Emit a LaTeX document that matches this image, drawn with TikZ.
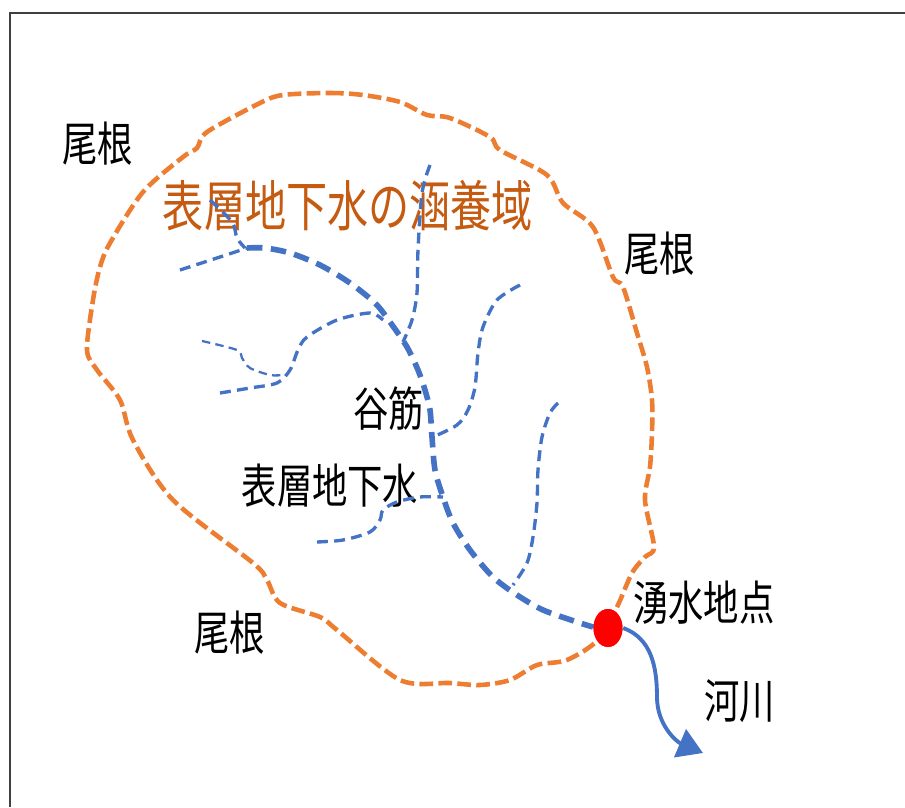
\documentclass[tikz,border=0pt]{standalone}
\usepackage{fontspec}
\usepackage{xcolor}
\usepackage{tikz}
\usetikzlibrary{shapes.geometric, arrows.meta, positioning}
\newfontfamily\jpfont[FakeStretch=0.75]{Noto Sans CJK JP}
\definecolor{ridgeorange}{RGB}{237,125,49}
\definecolor{streamblue}{RGB}{68,114,196}
\definecolor{titleorange}{RGB}{197,90,17}
\definecolor{framegray}{RGB}{64,64,64}
\tikzset{
    ridge/.style={draw=ridgeorange, line width=1.3pt, dash pattern=on 3.9pt off 1.5pt},
    valley/.style={draw=streamblue, line width=1.6pt, dash pattern=on 4.4pt off 2.4pt},
    brook/.style={draw=streamblue, line width=0.95pt, dash pattern=on 3.1pt off 1.8pt},
    rill/.style={draw=streamblue, line width=0.65pt, dash pattern=on 2.4pt off 1.5pt},
    river/.style={draw=streamblue, line width=1.1pt, -{Triangle[length=0.25cm, width=0.3cm]}},
    place/.style={font=\jpfont\fontsize{13.4}{14}\selectfont, inner sep=0pt, text=black},
    frame/.style={draw=framegray, line width=0.3pt}
}
\begin{document}
\begin{tikzpicture}[
    spring/.style={ellipse, fill=red, minimum width=0.29cm, minimum height=0.38cm, inner sep=0pt},
    areatitle/.style={font=\jpfont\fontsize{15.6}{17}\selectfont, inner sep=0pt, text=titleorange}
]
    \useasboundingbox (0,0) rectangle (9.05,8.07);
    \draw[frame] (0.10,0) |- (9.05,7.94);

    % Ridge line (watershed)
    \draw[ridge] plot[smooth cycle, tension=0.5] coordinates {
        (2.83,7.12) (3.30,7.14) (3.63,7.12) (4.00,7.05) (4.27,6.92) (4.50,6.89)
        (4.90,6.70) (5.00,6.57) (5.47,6.32) (5.63,6.04) (5.93,5.80) (6.13,5.30)
        (6.23,5.20) (6.37,4.74) (6.47,4.40) (6.52,4.07) (6.52,3.74) (6.50,3.40)
        (6.45,3.07) (6.54,2.60) (6.45,2.50) (6.32,2.34) (6.17,2.00) (5.98,1.67)
        (5.67,1.47) (5.37,1.42) (5.10,1.27) (4.80,1.22) (4.50,1.24) (4.00,1.27)
        (3.37,1.77) (3.20,1.90) (2.80,2.04) (2.67,2.27) (2.53,2.44) (1.73,3.07)
        (1.33,3.67) (1.20,4.07) (0.97,4.37) (0.87,4.57) (0.93,5.07) (1.00,5.40)
        (1.10,5.64) (1.43,6.15) (1.83,6.50) (1.97,6.59) (2.07,6.75) (2.60,7.04)};

    % Labels
    \node[areatitle] (area) at (3.48,6.01) {表層地下水の涵養域};
    \node[place] (ridgeNW) at (0.98,6.63) {尾根};
    \node[place] (ridgeE) at (6.60,5.53) {尾根};
    \node[place] (ridgeS) at (2.30,1.74) {尾根};
    \node[place] (valleyline) at (3.89,3.98) {谷筋};
    \node[place] (subsurface) at (3.30,3.21) {表層地下水};

    % Spring and river
    \node[spring] (spring) at (6.08,1.79) {};
    \coordinate (mouth) at (7.03,0.54);
    \node[place] (springtext) at (7.04,2.04) {湧水地点};
    \node[place] (rivertext) at (7.40,1.06) {河川};

    % Streams
    \draw[valley] plot[smooth] coordinates {
        (2.47,5.59) (2.65,5.59) (2.90,5.54) (3.20,5.42) (3.50,5.24) (3.75,5.04)
        (3.90,4.85) (4.07,4.60) (4.18,4.37) (4.25,4.17) (4.30,3.97) (4.32,3.70)
        (4.35,3.37) (4.43,3.10) (4.53,2.84) (4.70,2.57) (4.93,2.30) (5.17,2.12)
        (5.43,1.97) (5.77,1.85) (5.93,1.80)} -- (spring.west);
    \draw[brook] plot[smooth] coordinates {(1.80,5.37) (2.20,5.50) (2.47,5.59)};
    \draw[brook] plot[smooth] coordinates {(2.10,6.07) (2.32,5.85) (2.37,5.69) (2.45,5.59)};
    \draw[brook] plot[smooth] coordinates {
        (4.30,6.42) (4.22,6.14) (4.18,5.57) (4.17,5.14) (4.12,4.87) (4.03,4.65)};
    \draw[rill] plot[smooth] coordinates {
        (2.02,4.66) (2.37,4.57) (2.42,4.49) (2.50,4.39) (2.70,4.32) (2.83,4.32)};
    \draw[brook] plot[smooth] coordinates {
        (2.20,4.14) (2.50,4.19) (2.77,4.24) (2.90,4.37) (2.98,4.57) (3.07,4.70)
        (3.37,4.87) (3.70,4.94) (3.83,4.87)};
    \draw[brook] plot[smooth] coordinates {
        (5.20,5.22) (4.97,5.07) (4.83,4.80) (4.78,4.54) (4.75,4.20) (4.68,3.97)
        (4.57,3.82) (4.33,3.70)};
    \draw[brook] plot[smooth] coordinates {
        (3.17,2.65) (3.43,2.67) (3.70,2.75) (3.80,2.87) (3.83,2.97) (3.97,3.05)
        (4.20,3.10) (4.43,3.10)};
    \draw[brook] plot[smooth] coordinates {
        (5.58,4.04) (5.50,3.94) (5.42,3.70) (5.38,3.37) (5.37,3.04) (5.33,2.70)
        (5.27,2.44) (5.13,2.22)};

    \node[spring] at (spring) {};
    \draw[river] (spring.east) to[out=-20, in=90] (6.57,1.10) to[out=-90, in=157] (mouth);
\end{tikzpicture}
\end{document}
